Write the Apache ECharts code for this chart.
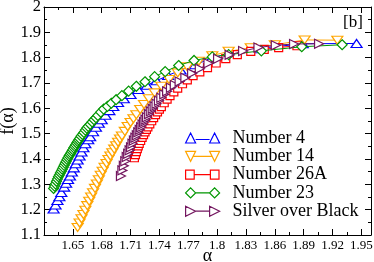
<!DOCTYPE html>
<html><head><meta charset="utf-8">
<script src="https://cdn.jsdelivr.net/npm/echarts@6/dist/echarts.min.js"></script>
<style>html,body{margin:0;padding:0;background:#fff}#c{width:374px;height:262px}</style>
</head><body><div id="c"></div>
<script>
// ---- data ----
const seriesNames = ['Number 4', 'Number 14', 'Number 26A', 'Number 23', 'Silver over Black'];
const xTickLabels = [1.65, 1.68, 1.71, 1.74, 1.77, 1.8, 1.83, 1.86, 1.89, 1.92, 1.95];
const yTickLabels = [1.1, 1.2, 1.3, 1.4, 1.5, 1.6, 1.7, 1.8, 1.9, 2];

const alphaNumber4 = [1.630,1.632,1.634,1.636,1.638,1.641,1.643,1.645,1.647,1.649,1.651,1.653,1.655,1.657,1.659,1.661,1.663,1.666,1.668,1.671,1.674,1.677,1.680,1.684,1.688,1.692,1.697,1.703,1.710,1.718,1.727,1.737,1.749,1.762,1.777,1.794,1.813,1.840,1.889,1.945];
const fNumber4     = [1.203,1.218,1.236,1.251,1.268,1.289,1.304,1.319,1.333,1.349,1.365,1.381,1.396,1.412,1.428,1.444,1.460,1.476,1.488,1.508,1.525,1.541,1.555,1.573,1.591,1.607,1.623,1.638,1.655,1.674,1.691,1.709,1.730,1.751,1.772,1.797,1.819,1.835,1.855,1.856];

const alphaNumber14 = [1.655,1.657,1.659,1.661,1.663,1.665,1.667,1.669,1.671,1.673,1.675,1.677,1.679,1.681,1.683,1.685,1.687,1.689,1.691,1.693,1.695,1.697,1.699,1.701,1.704,1.707,1.710,1.713,1.716,1.720,1.724,1.729,1.735,1.742,1.750,1.759,1.769,1.781,1.795,1.812,1.835,1.860,1.891,1.925];
const fNumber14     = [1.130,1.147,1.164,1.181,1.198,1.216,1.233,1.250,1.267,1.284,1.301,1.318,1.336,1.352,1.367,1.382,1.398,1.412,1.425,1.439,1.452,1.466,1.479,1.491,1.509,1.528,1.544,1.559,1.575,1.595,1.615,1.638,1.661,1.687,1.714,1.740,1.764,1.786,1.808,1.825,1.839,1.851,1.870,1.869];

const alphaNumber26A = [1.714,1.715,1.716,1.717,1.718,1.719,1.7205,1.722,1.7235,1.725,1.7265,1.728,1.730,1.732,1.734,1.736,1.738,1.740,1.742,1.745,1.748,1.751,1.755,1.759,1.764,1.769,1.775,1.782,1.790,1.799,1.809,1.821,1.835,1.849,1.864,1.883];
const fNumber26A     = [1.405,1.417,1.429,1.441,1.452,1.462,1.473,1.485,1.496,1.507,1.517,1.527,1.539,1.551,1.563,1.575,1.586,1.597,1.607,1.622,1.636,1.650,1.665,1.680,1.697,1.712,1.729,1.744,1.761,1.779,1.796,1.812,1.825,1.833,1.840,1.847];

const alphaNumber23 = [1.630,1.631,1.632,1.633,1.634,1.635,1.636,1.637,1.638,1.639,1.640,1.641,1.642,1.643,1.644,1.645,1.646,1.647,1.648,1.649,1.650,1.651,1.652,1.653,1.654,1.655,1.656,1.657,1.6585,1.660,1.6615,1.663,1.6645,1.666,1.668,1.670,1.672,1.674,1.676,1.679,1.682,1.686,1.690,1.695,1.701,1.708,1.716,1.725,1.735,1.746,1.760,1.776,1.795,1.812,1.846,1.888,1.930];
const fNumber23     = [1.284,1.293,1.302,1.312,1.321,1.330,1.337,1.345,1.352,1.360,1.367,1.375,1.383,1.390,1.398,1.405,1.412,1.418,1.424,1.431,1.437,1.444,1.450,1.456,1.463,1.469,1.475,1.481,1.490,1.497,1.505,1.514,1.522,1.529,1.537,1.546,1.555,1.563,1.572,1.585,1.597,1.608,1.620,1.634,1.650,1.668,1.687,1.705,1.725,1.745,1.769,1.789,1.803,1.812,1.827,1.843,1.851];

const alphaSilver = [1.700,1.7015,1.703,1.7045,1.706,1.7075,1.709,1.7105,1.712,1.7135,1.715,1.7165,1.718,1.7195,1.721,1.7225,1.724,1.7255,1.727,1.729,1.731,1.733,1.735,1.737,1.7395,1.742,1.745,1.748,1.752,1.756,1.761,1.767,1.774,1.782,1.791,1.801,1.813,1.827,1.843,1.861,1.880,1.906];
const fSilver     = [1.333,1.355,1.373,1.391,1.408,1.421,1.434,1.446,1.460,1.473,1.484,1.494,1.505,1.515,1.525,1.536,1.546,1.555,1.565,1.577,1.588,1.598,1.608,1.618,1.630,1.642,1.655,1.667,1.681,1.692,1.706,1.721,1.738,1.756,1.778,1.796,1.811,1.826,1.840,1.849,1.854,1.855];

// ---- styling ----
const colors = ['#0000ff', '#ffa500', '#ff0000', '#009600', '#73165f'];
const symbols = ['triangle', 'triangle', 'rect', 'diamond', 'path://M0,0L10,5L0,10Z'];
const symbolSizes = [[11, 8], [11, 8], [8, 8], [10, 10], [9, 9]];
const symbolRotates = [0, 180, 0, 0, 0];
const legendIcons = [
  'path://M0,10L5,0L10,10ZM10,6.5L24,6.5M24,10L29,0L34,10ZM42,5L42,5',
  'path://M0,0L10,0L5,10ZM7.5,5L26.5,5M24,0L34,0L29,10ZM42,5L42,5',
  'path://M0.5,0.5L9,0.5L9,9.5L0.5,9.5ZM9,5L25,5M25,0.5L33.5,0.5L33.5,9.5L25,9.5ZM42,5L42,5',
  'path://M0,5L5,0L10,5L5,10ZM10,5L24,5M24,5L29,0L34,5L29,10ZM42,5L42,5',
  'path://M0,0L10,5L0,10ZM10,5L24,5M24,0L34,5L24,10ZM42,5L42,5'
];
const seriesData = [
  [alphaNumber4, fNumber4],
  [alphaNumber14, fNumber14],
  [alphaNumber26A, fNumber26A],
  [alphaNumber23, fNumber23],
  [alphaSilver, fSilver]
];

const serif = 'Liberation Serif, Times New Roman, serif';
const fmtX = v => { const r = Math.round(v * 1000) / 1000; return xTickLabels.includes(r) ? String(r) : ''; };
const fmtY = v => { const r = Math.round(v * 100) / 100; return yTickLabels.includes(r) ? String(r) : ''; };

const axisCommonX = {
  type: 'value', min: 1.62, max: 1.96, interval: 0.03,
  axisLine: { show: true, onZero: false, lineStyle: { color: '#000', width: 1 } },
  axisTick: { show: true, inside: true, length: 6, lineStyle: { color: '#000', width: 1 } },
  minorTick: { show: true, splitNumber: 2, length: 3, lineStyle: { color: '#000', width: 1 } },
  splitLine: { show: false }, minorSplitLine: { show: false }
};
const axisCommonY = {
  type: 'value', min: 1.1, max: 2, interval: 0.1,
  axisLine: { show: true, onZero: false, lineStyle: { color: '#000', width: 1 } },
  axisTick: { show: true, inside: true, length: 6, lineStyle: { color: '#000', width: 1 } },
  minorTick: { show: true, splitNumber: 2, length: 3, lineStyle: { color: '#000', width: 1 } },
  splitLine: { show: false }, minorSplitLine: { show: false }
};

const option = {
  animation: false,
  backgroundColor: '#fff',
  grid: { left: 44, right: 3, top: 7, bottom: 27, containLabel: false, outerBoundsMode: 'none' },
  xAxis: [
    Object.assign({}, axisCommonX, {
      position: 'bottom',
      axisLabel: { formatter: fmtX, fontFamily: serif, fontSize: 13, color: '#000', margin: 4, hideOverlap: false },
      name: 'α', nameLocation: 'middle', nameGap: 12, nameMoveOverlap: false,
      nameTextStyle: { fontFamily: serif, fontSize: 18, color: '#000' }
    }),
    Object.assign({}, axisCommonX, { position: 'top', axisLabel: { show: false } })
  ],
  yAxis: [
    Object.assign({}, axisCommonY, {
      position: 'left',
      axisLabel: { formatter: fmtY, fontFamily: serif, fontSize: 16.5, color: '#000', margin: 3, hideOverlap: false },
      name: 'f(α)', nameLocation: 'middle', nameGap: 27, nameMoveOverlap: false,
      nameTextStyle: { fontFamily: serif, fontSize: 18, color: '#000' }
    }),
    Object.assign({}, axisCommonY, { position: 'right', axisLabel: { show: false } })
  ],
  legend: {
    orient: 'vertical', left: 185, top: 129,
    itemWidth: 42, itemHeight: 10, itemGap: 0.3, padding: 0,
    textStyle: { fontFamily: serif, fontSize: 18, color: '#000' },
    selectedMode: false,
    data: seriesNames.map((n, i) => ({
      name: n, icon: legendIcons[i],
      itemStyle: { color: '#fff', borderColor: colors[i], borderWidth: 1.2 }
    }))
  },
  graphic: [{
    type: 'text', x: 353, y: 23,
    style: { text: '[b]', font: '17px ' + serif, fill: '#000', align: 'center', verticalAlign: 'middle' }
  }],
  series: seriesNames.map((n, i) => ({
    type: 'line', name: n,
    xAxisIndex: 0, yAxisIndex: 0,
    data: seriesData[i][0].map((a, k) => [a, seriesData[i][1][k]]),
    symbol: symbols[i], symbolSize: symbolSizes[i], symbolRotate: symbolRotates[i],
    showAllSymbol: true,
    itemStyle: { color: '#fff', borderColor: colors[i], borderWidth: 1.2 },
    lineStyle: { color: colors[i], width: 1 },
    emphasis: { disabled: true },
    z: 2 + i
  }))
};

const chart = echarts.init(document.getElementById('c'), null, { renderer: 'canvas' });
chart.setOption(option);
</script>
</body></html>
